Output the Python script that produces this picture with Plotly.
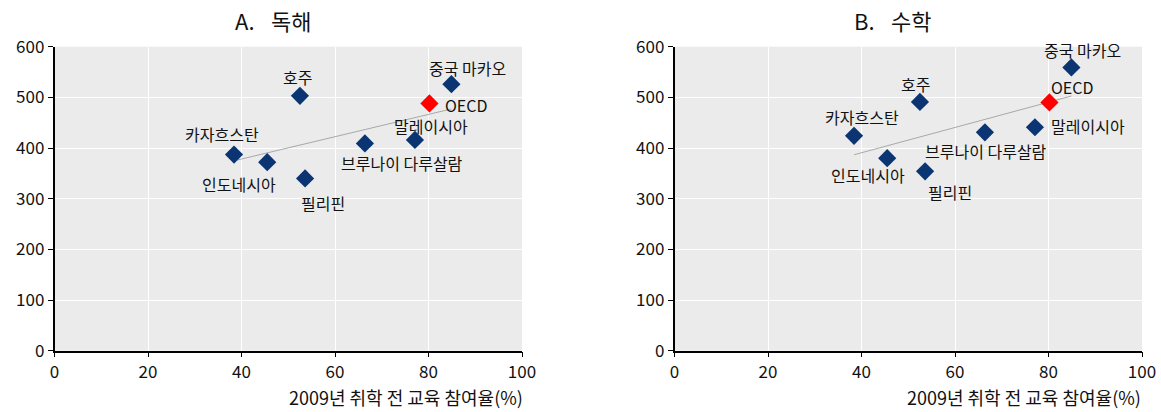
import numpy as np
import plotly.graph_objects as go

# ---- data ----
countries = ["카자흐스탄", "인도네시아", "호주", "필리핀", "브루나이 다루살람", "말레이시아", "중국 마카오"]
participation = [38.4, 45.5, 52.5, 53.6, 66.4, 77.1, 84.9]
reading = [387, 372, 503, 340, 409, 416, 526]
math_scores = [424, 380, 491, 354, 431, 441, 559]
oecd_label = "OECD"
oecd_participation = 80.2
oecd_reading = 488
oecd_math = 490
panel_titles = ["A.\u2002\u2005독해", "B.\u2002\u2005수학"]
x_title = "2009년 취학 전 교육 참여율(%)"
x_ticks = [0, 20, 40, 60, 80, 100]
y_ticks = [0, 100, 200, 300, 400, 500, 600]

# ---- label offsets (px) per panel: (xshift, yshift, anchor) ----
offsets_a = {
    "카자흐스탄": (-12, 21, "center"), "인도네시아": (-28, -22, "center"), "호주": (-2, 19, "center"),
    "필리핀": (18, -25, "center"), "브루나이 다루살람": (37, -20, "center"), "말레이시아": (16, 14, "center"),
    "중국 마카오": (16, 16, "center"), "OECD": (14, -2, "left"),
}
offsets_b = {
    "카자흐스탄": (8, 19, "center"), "인도네시아": (-19, -17, "center"), "호주": (-4, 18, "center"),
    "필리핀": (25, -21, "center"), "브루나이 다루살람": (1, -19, "center"), "말레이시아": (14, 1, "left"),
    "중국 마카오": (11, 17, "center"), "OECD": (0, 15, "left"),
}

FONT = "Noto Sans CJK KR"
NAVY = "#0b3473"
RED = "#ff0000"
W, H = 1161, 412

fig = go.Figure()
annotations = []

panels = [(reading, oecd_reading, "x", "y", offsets_a), (math_scores, oecd_math, "x2", "y2", offsets_b)]
for scores, oecd_score, xa, ya, offs in panels:
    xs = np.array(participation)
    ys = np.array(scores)
    slope, intercept = np.polyfit(xs, ys, 1)
    lx = np.array([xs.min(), xs.max()])
    fig.add_trace(go.Scatter(x=lx, y=slope * lx + intercept, mode="lines",
                             line=dict(color="#a8a8a8", width=1), xaxis=xa, yaxis=ya,
                             showlegend=False, hoverinfo="skip"))
    fig.add_trace(go.Scatter(x=participation, y=scores, mode="markers",
                             marker=dict(symbol="diamond", size=14, color=NAVY),
                             xaxis=xa, yaxis=ya, showlegend=False))
    fig.add_trace(go.Scatter(x=[oecd_participation], y=[oecd_score], mode="markers",
                             marker=dict(symbol="diamond", size=14, color=RED),
                             xaxis=xa, yaxis=ya, showlegend=False))
    names = countries + [oecd_label]
    px = participation + [oecd_participation]
    py = list(scores) + [oecd_score]
    for n, xv, yv in zip(names, px, py):
        dx, dy, anc = offs[n]
        annotations.append(dict(x=xv, y=yv, xref=xa, yref=ya, text=n, showarrow=False,
                                xshift=dx, yshift=dy, xanchor=anc,
                                font=dict(family=FONT, size=16, color="#111111")))


def pxx(page_x):
    return page_x / W


def pxy(page_y):
    return (H - page_y) / H


# panel titles
annotations.append(dict(x=pxx(273), y=pxy(20), xref="paper", yref="paper", text=panel_titles[0],
                        showarrow=False, xanchor="center", yanchor="middle",
                        font=dict(family=FONT, size=22, color="#111111")))
annotations.append(dict(x=pxx(893), y=pxy(20), xref="paper", yref="paper", text=panel_titles[1],
                        showarrow=False, xanchor="center", yanchor="middle",
                        font=dict(family=FONT, size=22, color="#111111")))
# x axis titles
annotations.append(dict(x=pxx(525), y=pxy(397), xref="paper", yref="paper", text=x_title, showarrow=False,
                        xanchor="right", yanchor="middle", font=dict(family=FONT, size=18, color="#111111")))
annotations.append(dict(x=pxx(1143), y=pxy(397), xref="paper", yref="paper", text=x_title, showarrow=False,
                        xanchor="right", yanchor="middle", font=dict(family=FONT, size=18, color="#111111")))

axis_common = dict(showgrid=True, gridcolor="white", gridwidth=1.3, zeroline=False,
                   showline=True, linecolor="black", linewidth=1.5, ticks="outside",
                   ticklen=5, tickcolor="black", automargin=False,
                   tickfont=dict(family=FONT, size=17, color="#111111"))
xcommon = dict(axis_common, range=[0, 100], tickvals=x_ticks)
ycommon = dict(axis_common, range=[0, 600], tickvals=y_ticks)

ydom = [pxy(350.7), pxy(46.7)]
fig.update_layout(
    width=W, height=H,
    margin=dict(l=0, r=0, t=0, b=0, autoexpand=False),
    paper_bgcolor="white", plot_bgcolor="#ebebeb",
    xaxis=dict(xcommon, domain=[pxx(54.5), pxx(522)], anchor="y"),
    yaxis=dict(ycommon, domain=ydom, anchor="x"),
    xaxis2=dict(xcommon, domain=[pxx(674.5), pxx(1142)], anchor="y2"),
    yaxis2=dict(ycommon, domain=ydom, anchor="x2"),
    annotations=annotations,
    font=dict(family=FONT),
)

fig.write_html("out.html", config={"displayModeBar": False},
               post_script="document.body.style.margin='0';document.body.style.overflow='hidden';")
